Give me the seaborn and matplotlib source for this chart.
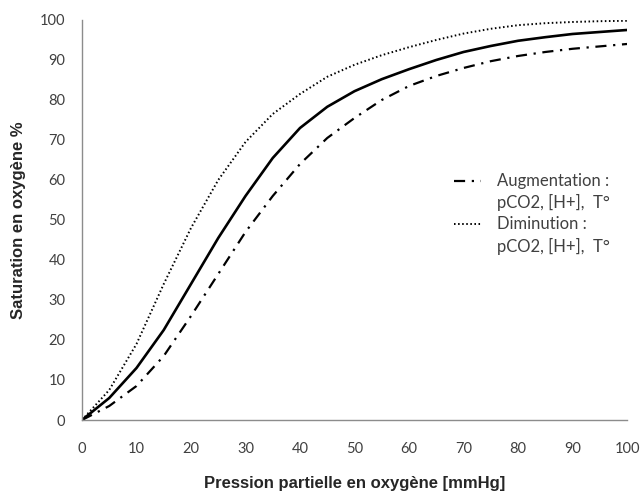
import pandas as pd
import seaborn as sns
import matplotlib.pyplot as plt
from matplotlib.lines import Line2D

# pO2 in mmHg
pression = [0, 5, 10, 15, 20, 25, 30, 35, 40, 45, 50,
            55, 60, 65, 70, 75, 80, 85, 90, 95, 100]

# saturation (%)
normale = [0, 5.5, 13, 22.5, 34, 45.5, 56, 65.5, 73, 78.3, 82.2,
           85.2, 87.7, 90, 92, 93.5, 94.8, 95.7, 96.5, 97, 97.5]
augmentation = [0, 3.5, 8.5, 16, 26, 36.5, 47, 56, 64, 70.5, 75.5,
                80, 83.5, 86, 88, 89.7, 91, 92, 92.8, 93.4, 94]
diminution = [0, 7.5, 19, 34, 48, 60, 69.5, 76.5, 81.5, 85.8, 88.8,
              91.2, 93.2, 95, 96.6, 97.8, 98.7, 99.2, 99.5, 99.7, 99.8]

lbl_aug = "Augmentation :"
lbl_dim = "Diminution :"
lbl_cause = "pCO2, [H+],  T°"

sns.set_style("white")
plt.rcParams["font.family"] = ["Lato", "DejaVu Sans"]

fig = plt.figure(figsize=(6.42, 4.91), dpi=100)
ax = fig.add_axes([0.1277, 0.1446, 0.849, 0.8147])

sns.lineplot(x=pression, y=normale, ax=ax, color="black", linewidth=1.9)
sns.lineplot(x=pression, y=augmentation, ax=ax, color="black", linewidth=1.6)
l_aug = ax.lines[-1]
l_aug.set_dashes([5, 3, 1, 3])
sns.lineplot(x=pression, y=diminution, ax=ax, color="black", linewidth=1.4)
l_dim = ax.lines[-1]
l_dim.set_dashes([0.8, 1.3])
for ln in ax.lines:
    ln.set_solid_joinstyle("round")
    ln.set_dash_joinstyle("round")

ax.set_xlim(0, 100)
ax.set_ylim(0, 100)
ax.set_xticks(range(0, 101, 10))
ax.set_xticks(range(0, 101, 5), minor=True)
ax.set_yticks(range(0, 101, 10))

for side in ["top", "right"]:
    ax.spines[side].set_visible(False)
for side in ["left", "bottom"]:
    ax.spines[side].set_color("#8c8c8c")
    ax.spines[side].set_linewidth(1.0)

ax.tick_params(axis="both", which="both", direction="inout", length=8,
               width=1.0, color="#8c8c8c", labelsize=10.5,
               labelcolor="#404040")
ax.tick_params(axis="x", which="major", pad=12)
ax.tick_params(axis="y", which="major", pad=8)

ax.set_xlabel("Pression partielle en oxygène [mmHg]", fontsize=12,
              fontweight="bold", family=["Liberation Sans", "DejaVu Sans"],
              labelpad=14)
ax.set_ylabel("Saturation en oxygène %", fontsize=12, fontweight="bold",
              family=["Liberation Sans", "DejaVu Sans"], labelpad=10)

# legend: handle only next to the first line of each entry
blank = Line2D([], [], linestyle="none")
leg = ax.legend([l_aug, blank, l_dim, blank],
                [lbl_aug, lbl_cause, lbl_dim, lbl_cause],
                loc="center left", bbox_to_anchor=(0.655, 0.515), frameon=False,
                fontsize=12, handlelength=1.6, handletextpad=1.0,
                labelspacing=0.3, labelcolor="#404040")

fig.savefig("out.png", dpi=100)
plt.close(fig)
